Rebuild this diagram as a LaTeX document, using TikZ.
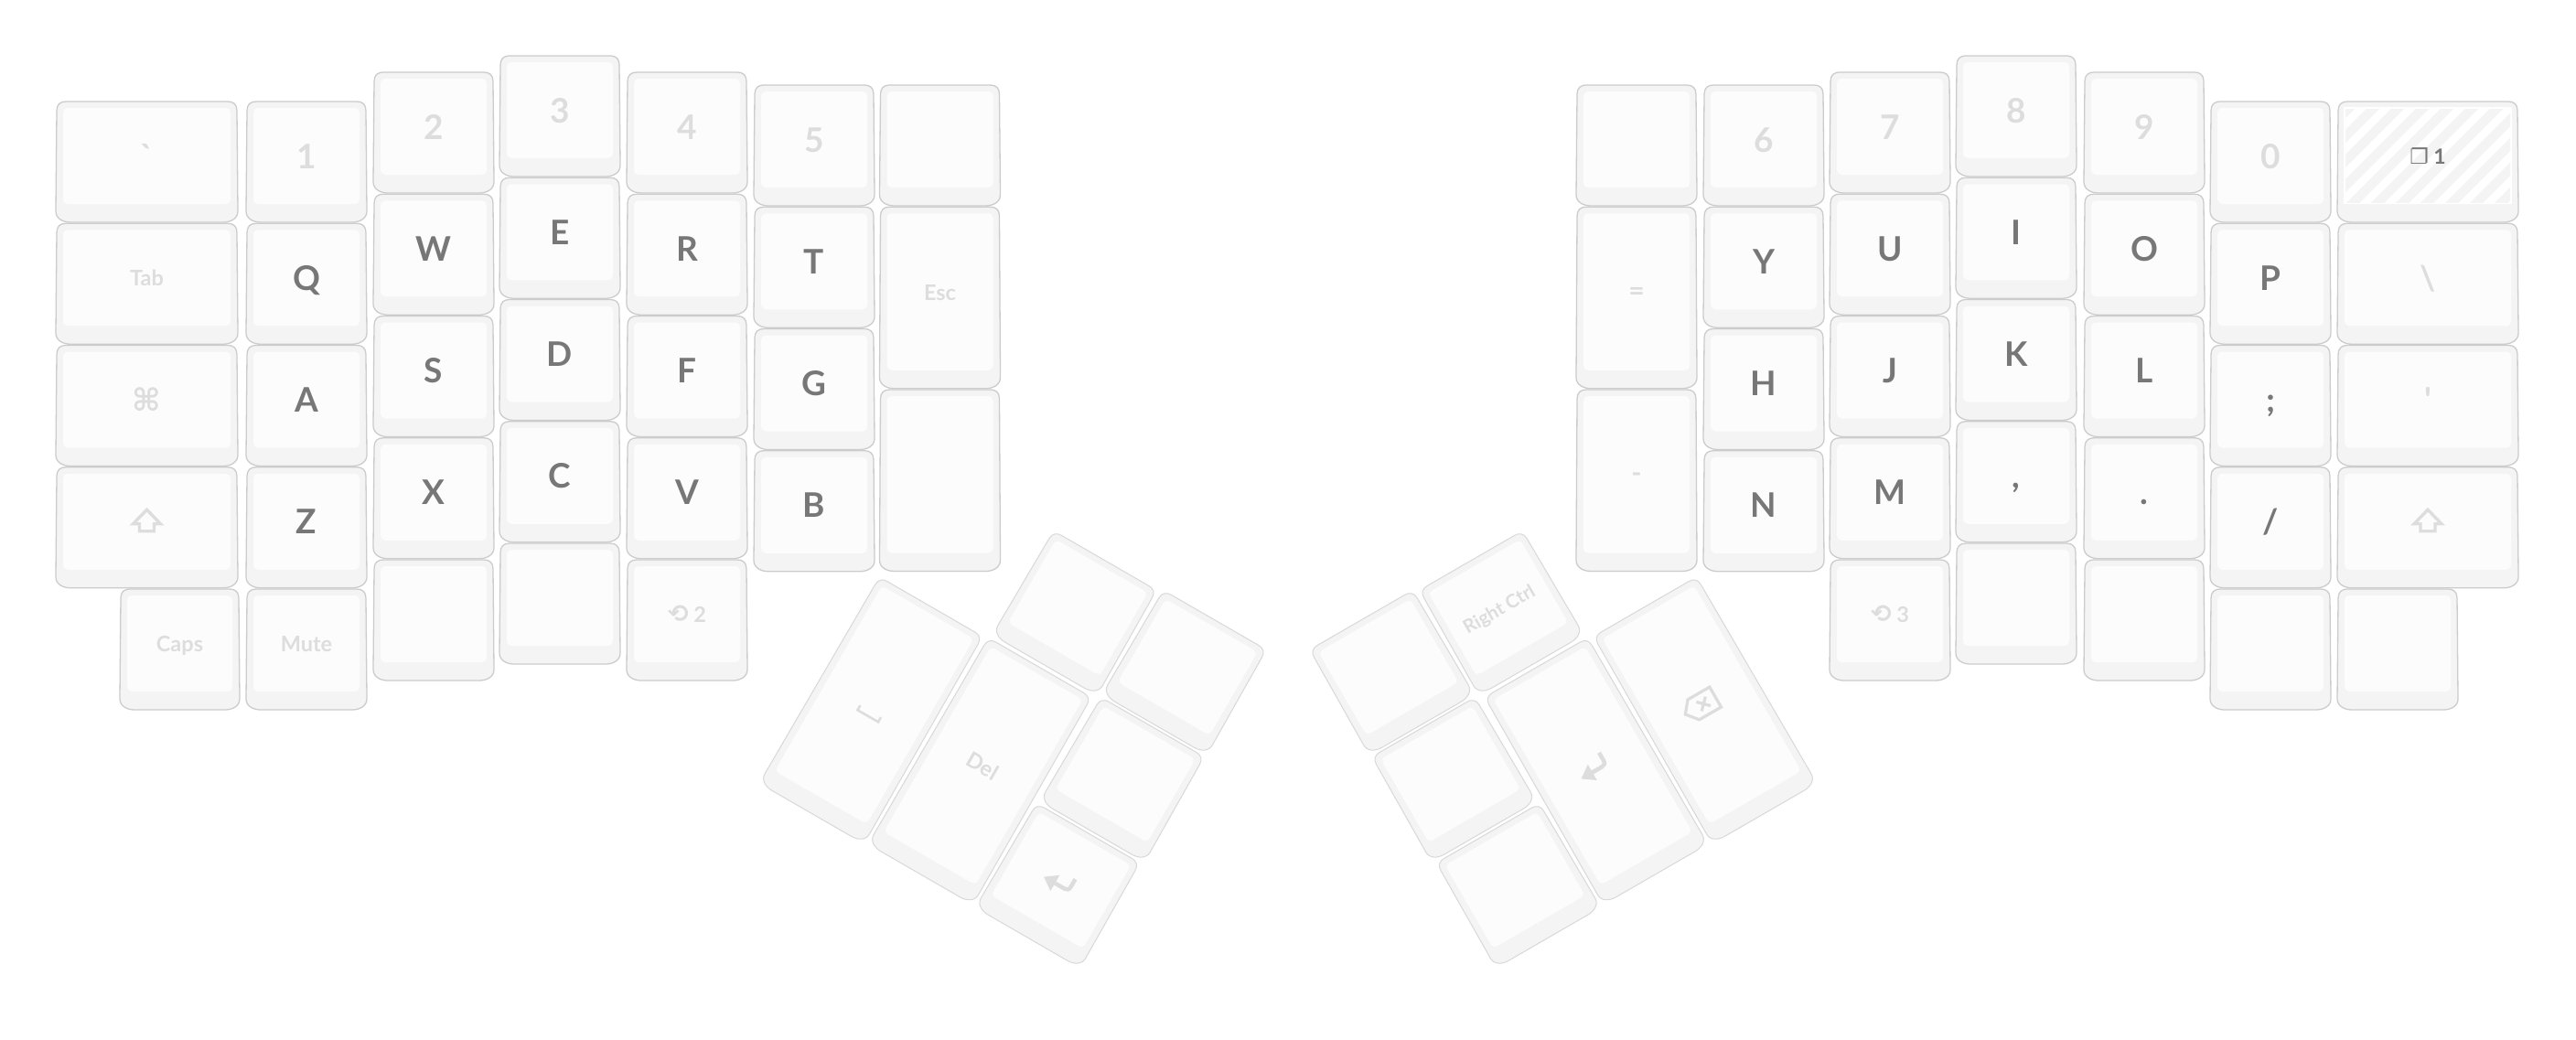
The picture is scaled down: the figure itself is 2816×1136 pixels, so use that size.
\documentclass[tikz,border=0pt]{standalone}
\usepackage{fontspec}
\setmainfont{Lato}
\newfontfamily\symfont{DejaVu Sans}
\newfontfamily\rawfont{Lato}
\definecolor{keyline}{HTML}{CCCCCC}
\definecolor{thumbline}{HTML}{D8D8D8}
\definecolor{keyside}{HTML}{F4F4F4}
\definecolor{keyface}{HTML}{FCFCFC}
\definecolor{inklight}{HTML}{DDDDDD}
\definecolor{inkdark}{HTML}{777777}
\tikzset{
  capedge/.style={draw=keyline,line width=1.3pt,fill=keyside},
  capface/.style={fill=keyface,rounded corners=5pt},
  lbl/.style={anchor=base,inner sep=0pt,outer sep=0pt,transform shape},
  darkbig/.style={lbl,text=inkdark,yshift=-1pt,font=\fontsize{37}{37}\selectfont\bfseries},
  lightbig/.style={lbl,text=inklight,yshift=-1pt,font=\fontsize{37}{37}\selectfont\bfseries},
  lightsm/.style={lbl,text=inklight,yshift=3.5pt,font=\fontsize{23.5}{24}\selectfont\bfseries},
  lightmid/.style={lbl,text=inklight,yshift=3.5pt,font=\fontsize{30}{30}\selectfont\bfseries},
  lighticon/.style={lbl,text=inklight,font=\fontsize{34}{34}\selectfont\symfont\bfseries},
  lightctrl/.style={lbl,text=inklight,yshift=3.5pt,font=\fontsize{20.5}{21}\selectfont\bfseries},
  darksm/.style={lbl,text=inkdark,yshift=3.5pt,font=\fontsize{23}{23}\selectfont\bfseries},
  iconline/.style={draw=inklight,fill=none},
  thumbcap/.style={capedge/.append style={draw=thumbline,line width=1pt}},
}
\newcommand\capshape[2]{%
  \path[capedge] (1,10) .. controls (1,3) and (5,0) .. (11,0) -- ({#1-11},0)
    .. controls ({#1-5},0) and ({#1-1},3) .. ({#1-1},10) -- (#1,{#2-12})
    .. controls (#1,{#2-4}) and ({#1-8},#2) .. ({#1-16},#2) -- (16,#2)
    .. controls (8,#2) and (0,{#2-4}) .. (0,{#2-12}) -- cycle;
  \path[capface] (8,7) rectangle ({#1-8},{#2-20});}
% straight keys: x y w h name style text
\newcommand\kcap[7]{\begin{scope}[shift={({#1},{#2})}]\capshape{#3}{#4}%
  \node[#6] (#5) at ({#3/2},{#4/2+6}) {#7};\end{scope}}
\newcommand\kblank[4]{\begin{scope}[shift={({#1},{#2})}]\capshape{#3}{#4}\end{scope}}
% straight key with a drawn shift arrow
\newcommand\kshift[3]{\begin{scope}[shift={({#1},{#2})}]\capshape{#3}{132}%
  \draw[iconline,line width=3.4pt,line join=miter] ({#3/2},46.5) -- ({#3/2+15},62) -- ({#3/2+8},62) -- ({#3/2+8},70) -- ({#3/2-8},70) -- ({#3/2-8},62) -- ({#3/2-15},62) -- cycle;\end{scope}}
% rotated keys: cx cy h angle name style text
\newcommand\tcap[7]{\begin{scope}[shift={({#1},{#2})},rotate=#4,shift={(-66,{-#3/2})},thumbcap]\capshape{132}{#3}%
  \node[#6] (#5) at (66,{#3/2+6}) {#7};\end{scope}}
\newcommand\tblank[4]{\begin{scope}[shift={({#1},{#2})},rotate=#4,shift={(-66,{-#3/2})},thumbcap]\capshape{132}{#3}\end{scope}}
% rotated key with a drawn icon: cx cy h angle code (origin = face centre)
\newcommand\ticon[5]{\begin{scope}[shift={({#1},{#2})},rotate=#4,shift={(-66,{-#3/2})},thumbcap]\capshape{132}{#3}%
  \begin{scope}[shift={(66,{(#3-13)/2})}]#5\end{scope}\end{scope}}
\newcommand\enterglyph{%
  \draw[iconline,line width=4.5pt] (13,-9) -- (13,1) .. controls (13,4.5) and (11,6) .. (8,6) -- (-6,6);
  \fill[inklight] (-18,6) -- (-4,-4) -- (-4,16) -- cycle;}
\newcommand\rowy[2]{#1+133.25*#2}
\begin{document}
\begin{tikzpicture}[x=1pt,y=-1pt]
\useasboundingbox[fill=white] (0,0) rectangle (2816,1136);
% ---- left hand
\kcap{61}{\rowy{111}{0}}{199}{132}{kgrave}{lightbig}{\rawfont\bfseries `}
\kcap{61}{\rowy{111}{1}}{199}{132}{ktab}{lightsm}{Tab}
\kcap{61}{\rowy{111}{2}}{199}{132}{kcmd}{lighticon}{⌘}
\kshift{61}{\rowy{111}{3}}{199}
\kcap{131}{\rowy{111}{4}}{131}{132}{kcaps}{lightsm}{Caps}
\kcap{269}{\rowy{111}{0}}{132}{132}{kone}{lightbig}{1}
\kcap{269}{\rowy{111}{1}}{132}{132}{kq}{darkbig}{Q}
\kcap{269}{\rowy{111}{2}}{132}{132}{ka}{darkbig}{A}
\kcap{269}{\rowy{111}{3}}{132}{132}{kz}{darkbig}{Z}
\kcap{269}{\rowy{111}{4}}{132}{132}{kmute}{lightsm}{Mute}
\kcap{408}{\rowy{79}{0}}{132}{132}{ktwo}{lightbig}{2}
\kcap{408}{\rowy{79}{1}}{132}{132}{kw}{darkbig}{W}
\kcap{408}{\rowy{79}{2}}{132}{132}{ks}{darkbig}{S}
\kcap{408}{\rowy{79}{3}}{132}{132}{kx}{darkbig}{X}
\kblank{408}{\rowy{79}{4}}{132}{132}
\kcap{546}{\rowy{61}{0}}{132}{132}{kthree}{lightbig}{3}
\kcap{546}{\rowy{61}{1}}{132}{132}{ke}{darkbig}{E}
\kcap{546}{\rowy{61}{2}}{132}{132}{kd}{darkbig}{D}
\kcap{546}{\rowy{61}{3}}{132}{132}{kc}{darkbig}{C}
\kblank{546}{\rowy{61}{4}}{132}{132}
\kcap{685}{\rowy{79}{0}}{132}{132}{kfour}{lightbig}{4}
\kcap{685}{\rowy{79}{1}}{132}{132}{kr}{darkbig}{R}
\kcap{685}{\rowy{79}{2}}{132}{132}{kf}{darkbig}{F}
\kcap{685}{\rowy{79}{3}}{132}{132}{kv}{darkbig}{V}
\kcap{685}{\rowy{79}{4}}{132}{132}{kltwo}{lightsm}{{\symfont\fontsize{27}{27}\selectfont ⟲} 2}
\kcap{824}{\rowy{93}{0}}{132}{132}{kfive}{lightbig}{5}
\kcap{824}{\rowy{93}{1}}{132}{132}{kt}{darkbig}{T}
\kcap{824}{\rowy{93}{2}}{132}{132}{kg}{darkbig}{G}
\kcap{824}{\rowy{93}{3}}{132}{132}{kb}{darkbig}{B}
\kblank{961.5}{93}{132}{132}
\kcap{961.5}{226.25}{132}{198.5}{kesc}{lightsm}{Esc}
\kblank{961.5}{426}{132}{198.5}
% ---- right hand
\kblank{1723}{93}{132}{132}
\kcap{1723}{226.25}{132}{198.5}{kequal}{lightmid}{=}
\kcap{1723}{426}{132}{198.5}{kminus}{lightmid}{-}
\kcap{1862}{\rowy{93}{0}}{132}{132}{ksix}{lightbig}{6}
\kcap{1862}{\rowy{93}{1}}{132}{132}{ky}{darkbig}{Y}
\kcap{1862}{\rowy{93}{2}}{132}{132}{kh}{darkbig}{H}
\kcap{1862}{\rowy{93}{3}}{132}{132}{kn}{darkbig}{N}
\kcap{2000}{\rowy{79}{0}}{132}{132}{kseven}{lightbig}{7}
\kcap{2000}{\rowy{79}{1}}{132}{132}{ku}{darkbig}{U}
\kcap{2000}{\rowy{79}{2}}{132}{132}{kj}{darkbig}{J}
\kcap{2000}{\rowy{79}{3}}{132}{132}{km}{darkbig}{M}
\kcap{2000}{\rowy{79}{4}}{132}{132}{klthree}{lightsm}{{\symfont\fontsize{27}{27}\selectfont ⟲} 3}
\kcap{2138}{\rowy{61}{0}}{132}{132}{keight}{lightbig}{8}
\kcap{2138}{\rowy{61}{1}}{132}{132}{ki}{darkbig}{I}
\kcap{2138}{\rowy{61}{2}}{132}{132}{kk}{darkbig}{K}
\kcap{2138}{\rowy{61}{3}}{132}{132}{kcomma}{darkbig}{,}
\kblank{2138}{\rowy{61}{4}}{132}{132}
\kcap{2278}{\rowy{79}{0}}{132}{132}{knine}{lightbig}{9}
\kcap{2278}{\rowy{79}{1}}{132}{132}{ko}{darkbig}{O}
\kcap{2278}{\rowy{79}{2}}{132}{132}{kl}{darkbig}{L}
\kcap{2278}{\rowy{79}{3}}{132}{132}{kdot}{darkbig}{.}
\kblank{2278}{\rowy{79}{4}}{132}{132}
\kcap{2416}{\rowy{111}{0}}{132}{132}{kzero}{lightbig}{0}
\kcap{2416}{\rowy{111}{1}}{132}{132}{kp}{darkbig}{P}
\kcap{2416}{\rowy{111}{2}}{132}{132}{ksemi}{darkbig}{;}
\kcap{2416}{\rowy{111}{3}}{132}{132}{kslash}{darkbig}{/}
\kblank{2416}{\rowy{111}{4}}{132}{132}
% layer key with hatched face
\begin{scope}[shift={(2555,111)}]
  \capshape{198}{132}
  \fill[white] (7,6) rectangle (191,112);
  \begin{scope}
    \clip (9,8) rectangle (189,110);
    \foreach \s in {-100,-73,...,300}
      \draw[keyside,line width=10pt] (\s,120) -- ({\s+120},0);
  \end{scope}
  \node[darksm] (klayer) at (99,72) {{\symfont\bfseries ❐} 1};
\end{scope}
\kcap{2555}{\rowy{111}{1}}{198}{132}{kback}{lightbig}{\textbackslash}
\kcap{2555}{\rowy{111}{2}}{198}{132}{kquote}{lightbig}{\rawfont\bfseries '}
\kshift{2555}{\rowy{111}{3}}{198}
\kblank{2555}{\rowy{111}{4}}{132}{132}
% ---- left thumb cluster
\tblank{1175}{670}{132}{-30}
\tblank{1295}{735}{132}{-30}
\tblank{1227}{852}{132}{-30}
\ticon{1156.5}{968}{132}{-30}{\enterglyph}
\tcap{1071.5}{842.8}{261}{-30}{kdel}{lightsm}{Del}
\ticon{952.5}{776.3}{261}{-30}{\draw[iconline,line width=2.6pt] (-13,8) -- (-13,14) -- (13,14) -- (13,8);}
% ---- right thumb cluster
\tcap{1641}{670}{132}{30}{krctrl}{lightctrl}{Right Ctrl}
\tblank{1521}{735}{132}{30}
\tblank{1589}{852}{132}{30}
\tblank{1659.5}{968}{132}{30}
\ticon{1744.5}{842.8}{261}{30}{\enterglyph}
\ticon{1863.5}{776.3}{261}{30}{\begin{scope}[scale=1.15]\draw[iconline,line width=3.2pt,line join=miter] (-18,0) -- (-9,-11) -- (15,-11) -- (15,11) -- (-9,11) -- cycle;
  \draw[iconline,line width=3.2pt] (-3,-5) -- (7,5) (-3,5) -- (7,-5);\end{scope}}
\end{tikzpicture}
\end{document}
